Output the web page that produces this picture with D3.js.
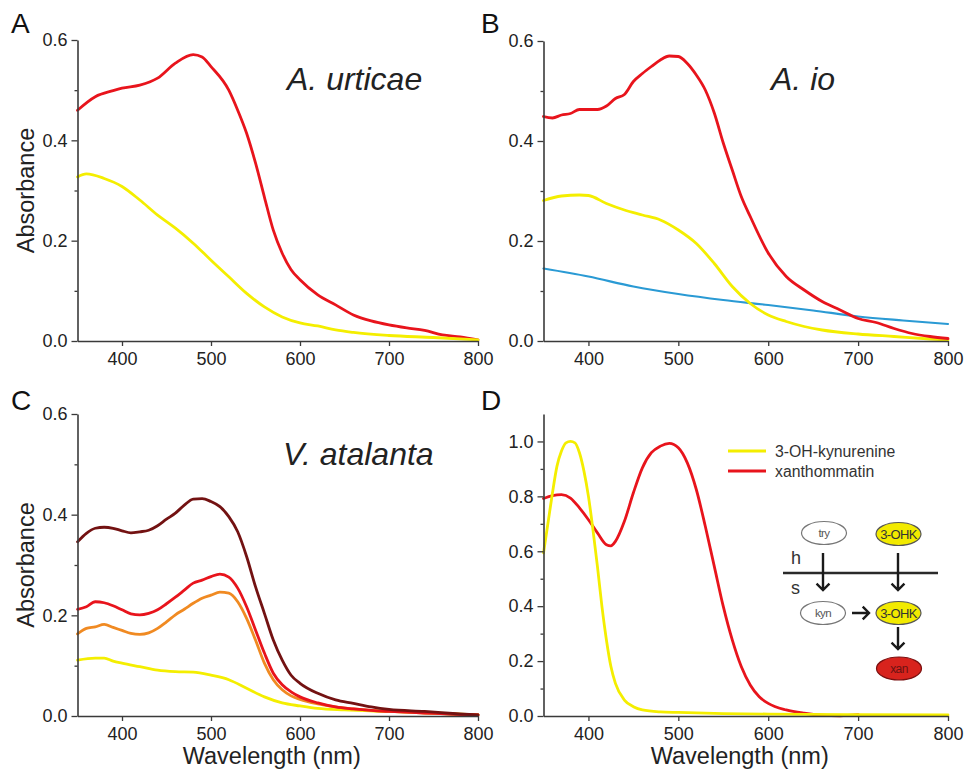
<!DOCTYPE html>
<html>
<head>
<meta charset="utf-8">
<script src="https://cdn.jsdelivr.net/npm/d3@7"></script>
<style>
  html, body { margin: 0; padding: 0; background: #fff; }
  svg { display: block; font-family: "Liberation Sans", Arial, Helvetica, sans-serif; }
</style>
</head>
<body>
<svg id="fig" width="967" height="772"></svg>
<script>
// ---- Absorbance spectra (wavelength in nm, absorbance) ----
// Panel A: A. urticae
const wlUrticaeRed = [350,370,390,400,420,440,460,480,490,500,520,530,540,550,560,570,580,590,600,620,640,660,680,700,720,740,760,780,800];
const urticaeRed   = [0.460,0.487,0.499,0.504,0.510,0.524,0.554,0.571,0.566,0.547,0.500,0.460,0.414,0.355,0.287,0.221,0.175,0.142,0.122,0.092,0.072,0.052,0.040,0.032,0.026,0.021,0.012,0.008,0.002];
const wlUrticaeYellow = [350,360,380,400,420,440,460,480,500,520,540,560,580,600,620,640,660,700,750,800];
const urticaeYellow   = [0.327,0.333,0.324,0.308,0.281,0.251,0.225,0.195,0.161,0.128,0.095,0.068,0.048,0.036,0.030,0.022,0.017,0.011,0.007,0.002];

// Panel B: A. io
const wlIoRed = [350,360,370,380,390,400,410,420,430,440,450,460,470,480,490,500,510,520,530,540,550,560,570,580,600,620,640,660,680,700,720,740,760,780,800];
const ioRed   = [0.449,0.446,0.452,0.455,0.463,0.463,0.463,0.470,0.485,0.493,0.519,0.535,0.549,0.562,0.570,0.569,0.555,0.532,0.502,0.456,0.396,0.342,0.289,0.249,0.176,0.129,0.102,0.079,0.062,0.045,0.037,0.025,0.015,0.009,0.005];
const wlIoYellow = [350,370,390,400,420,440,460,480,500,520,540,560,580,600,620,640,660,700,740,780,800];
const ioYellow   = [0.281,0.290,0.292,0.291,0.275,0.262,0.252,0.242,0.222,0.195,0.155,0.109,0.075,0.052,0.039,0.029,0.022,0.014,0.009,0.004,0.002];
const wlIoBlue = [350,400,450,500,550,600,650,700,750,800];
const ioBlue   = [0.145,0.129,0.109,0.094,0.082,0.072,0.061,0.049,0.041,0.034];

// Panel C: V. atalanta
const wlAtalanta = [350,360,370,380,390,400,410,420,430,440,450,460,470,480,490,500,510,520,530,540,550,560,570,580,590,600,620,640,660,680,700,740,780,800];
const atalantaDark   = [0.346,0.363,0.373,0.375,0.373,0.368,0.364,0.366,0.369,0.378,0.391,0.403,0.419,0.431,0.432,0.426,0.416,0.396,0.366,0.317,0.257,0.204,0.151,0.111,0.081,0.065,0.045,0.032,0.025,0.018,0.013,0.009,0.004,0.002];
const atalantaRed    = [0.212,0.217,0.227,0.225,0.219,0.211,0.203,0.201,0.204,0.211,0.223,0.236,0.250,0.264,0.270,0.277,0.282,0.276,0.254,0.217,0.171,0.125,0.085,0.062,0.048,0.038,0.026,0.018,0.014,0.011,0.009,0.006,0.003,0.002];
const atalantaOrange = [0.163,0.174,0.177,0.182,0.176,0.170,0.164,0.162,0.165,0.174,0.187,0.201,0.212,0.224,0.234,0.240,0.246,0.244,0.227,0.194,0.151,0.105,0.072,0.052,0.040,0.033,0.024,0.018,0.014,0.011,0.009,0.006,0.003,0.002];
const wlAtalantaYellow = [350,370,380,390,400,420,440,460,480,500,520,540,560,580,600,620,650,700,750,800];
const atalantaYellow   = [0.111,0.115,0.115,0.109,0.105,0.098,0.091,0.088,0.087,0.081,0.072,0.055,0.038,0.026,0.020,0.015,0.012,0.009,0.006,0.002];

// Panel D: reference pigments (normalised)
const wlKynurenine = [350,355,360,365,370,375,380,385,390,395,400,405,410,415,420,425,430,440,450,460,480,500,550,600,700,800];
const kynurenine   = [0.594,0.703,0.813,0.910,0.965,0.995,1.000,0.995,0.959,0.892,0.800,0.679,0.545,0.399,0.277,0.180,0.119,0.058,0.034,0.022,0.015,0.013,0.009,0.007,0.005,0.004];
const wlXanthommatin = [350,360,370,380,390,400,410,420,425,430,440,450,460,470,480,490,500,510,520,530,540,550,560,570,580,590,600,620,640,660,680,700];
const xanthommatin   = [0.792,0.803,0.806,0.794,0.758,0.715,0.667,0.624,0.620,0.636,0.709,0.813,0.904,0.959,0.983,0.993,0.977,0.922,0.825,0.691,0.545,0.399,0.277,0.180,0.113,0.070,0.046,0.022,0.010,0.003,0.001,0.005];

// Axis ticks
const xTicks = [400, 500, 600, 700, 800];
const yTicksSmall = [0, 0.2, 0.4, 0.6];
const yMinorSmall = [0.1, 0.3, 0.5];
const yTicksD = [0, 0.2, 0.4, 0.6, 0.8, 1.0];
const yMinorD = [0.1, 0.3, 0.5, 0.7, 0.9];

// Legend entries for panel D
const legendLabels = ["3-OH-kynurenine", "xanthommatin"];

// ---- colours ----
const C = {
  red: "#e8141c",
  yellow: "#f4ee00",
  blue: "#2a9ad4",
  orange: "#f08a22",
  dark: "#731212",
  axis: "#3a3a3a",
  text: "#222"
};

const svg = d3.select("#fig");

const panels = [
  { id: "A", x0: 77.5, x1: 478, yTop: 40, yBot: 341, yMax: 0.6, ticks: yTicksSmall, minor: yMinorSmall,
    title: "A. urticae", titleX: 287, titleY: 90, yLabel: true, xLabel: false, letterX: 11, letterY: 33,
    series: [
      { wl: wlUrticaeRed, v: urticaeRed, color: C.red },
      { wl: wlUrticaeYellow, v: urticaeYellow, color: C.yellow }
    ] },
  { id: "B", x0: 543.5, x1: 948, yTop: 41, yBot: 341, yMax: 0.6, ticks: yTicksSmall, minor: yMinorSmall,
    title: "A. io", titleX: 771, titleY: 90, yLabel: false, xLabel: false, letterX: 481, letterY: 33,
    series: [
      { wl: wlIoBlue, v: ioBlue, color: C.blue, w: 2.2 },
      { wl: wlIoYellow, v: ioYellow, color: C.yellow },
      { wl: wlIoRed, v: ioRed, color: C.red }
    ] },
  { id: "C", x0: 77.5, x1: 478, yTop: 414, yBot: 716, yMax: 0.6, ticks: yTicksSmall, minor: yMinorSmall,
    title: "V. atalanta", titleX: 283, titleY: 465, yLabel: true, xLabel: true, letterX: 11, letterY: 410,
    series: [
      { wl: wlAtalantaYellow, v: atalantaYellow, color: C.yellow },
      { wl: wlAtalanta, v: atalantaOrange, color: C.orange },
      { wl: wlAtalanta, v: atalantaRed, color: C.red },
      { wl: wlAtalanta, v: atalantaDark, color: C.dark }
    ] },
  { id: "D", x0: 543.5, x1: 948, yTop: 414, yBot: 716, yMax: 1.1, ticks: yTicksD, minor: yMinorD,
    title: null, yLabel: false, xLabel: true, letterX: 481, letterY: 410,
    series: [
      { wl: wlXanthommatin, v: xanthommatin, color: C.red },
      { wl: wlKynurenine, v: kynurenine, color: C.yellow }
    ] }
];

panels.forEach(p => {
  const x = d3.scaleLinear().domain([350, 800]).range([p.x0, p.x1]);
  const y = d3.scaleLinear().domain([0, p.yMax]).range([p.yBot, p.yTop]);
  const g = svg.append("g").attr("class", "panel-" + p.id);

  // curves
  const line = d3.line().x(d => x(d[0])).y(d => y(d[1])).curve(d3.curveMonotoneX);
  p.series.forEach(s => {
    g.append("path")
      .datum(s.wl.map((w, i) => [w, s.v[i]]))
      .attr("d", line)
      .attr("fill", "none")
      .attr("stroke", s.color)
      .attr("stroke-width", s.w || 2.8)
      .attr("stroke-linejoin", "round")
      .attr("stroke-linecap", "round");
  });

  // x axis
  g.append("g")
    .attr("transform", `translate(0,${p.yBot})`)
    .call(d3.axisBottom(x).tickValues(xTicks).tickSize(5).tickSizeOuter(0).tickPadding(6).tickFormat(d3.format("d")));
  // y axis
  g.append("g")
    .attr("transform", `translate(${p.x0},0)`)
    .call(d3.axisLeft(y).tickValues(p.ticks).tickSize(6).tickSizeOuter(0).tickPadding(4).tickFormat(d3.format(".1f")));
  // minor y ticks
  g.append("g")
    .attr("transform", `translate(${p.x0},0)`)
    .call(d3.axisLeft(y).tickValues(p.minor).tickSize(3).tickSizeOuter(0).tickFormat(""))
    .select(".domain").remove();

  g.selectAll(".domain").attr("stroke", C.axis).attr("stroke-width", 1.6);
  g.selectAll(".tick line").attr("stroke", C.axis).attr("stroke-width", 1.3);
  g.selectAll(".tick text").attr("fill", C.text).style("font-size", "18px")
    .style("font-family", '"Liberation Sans", Arial, sans-serif');

  // panel letter
  svg.append("text").attr("x", p.letterX).attr("y", p.letterY)
    .attr("fill", "#111").style("font-size", "28px").text(p.id);

  if (p.title) {
    svg.append("text").attr("x", p.titleX).attr("y", p.titleY)
      .attr("fill", "#222").style("font-size", "32px").style("font-style", "italic")
      .text(p.title);
  }
  if (p.yLabel) {
    svg.append("text")
      .attr("transform", `translate(34,${(p.yTop + p.yBot) / 2}) rotate(-90)`)
      .attr("text-anchor", "middle").attr("fill", "#222").style("font-size", "23.5px")
      .text("Absorbance");
  }
  if (p.xLabel) {
    svg.append("text")
      .attr("x", (p.x0 + p.x1) / 2 - 6).attr("y", 764)
      .attr("text-anchor", "middle").attr("fill", "#222").style("font-size", "23.5px")
      .text("Wavelength (nm)");
  }

  if (p.id === "D") {
    // legend
    const lg = g.append("g").attr("transform", "translate(728,451)");
    [C.yellow, C.red].forEach((col, i) => {
      lg.append("line").attr("x1", 0).attr("x2", 38).attr("y1", i * 20).attr("y2", i * 20)
        .attr("stroke", col).attr("stroke-width", 3);
      lg.append("text").attr("x", 47).attr("y", i * 20 + 5.5)
        .attr("fill", "#333").style("font-size", "15.8px").text(legendLabels[i]);
    });

    // pathway sketch: hemolymph (h) / scale (s) compartments
    const dg = g.append("g").attr("transform", "translate(783,520)");
    dg.append("line").attr("x1", 0).attr("x2", 155).attr("y1", 53).attr("y2", 53)
      .attr("stroke", "#2a2a2a").attr("stroke-width", 2.5);
    dg.append("text").attr("x", 8).attr("y", 44).attr("fill", "#333").style("font-size", "18px").text("h");
    dg.append("text").attr("x", 8).attr("y", 74).attr("fill", "#333").style("font-size", "18px").text("s");

    const nodes = [
      { cx: 41, cy: 13, label: "try", fill: "#fff", stroke: "#777", tc: "#555", fs: 11.5 },
      { cx: 115.5, cy: 14, label: "3-OHK", fill: "#f2ea00", stroke: "#555", tc: "#333", fs: 13 },
      { cx: 40, cy: 93, label: "kyn", fill: "#fff", stroke: "#777", tc: "#555", fs: 11.5 },
      { cx: 115.5, cy: 93, label: "3-OHK", fill: "#f2ea00", stroke: "#555", tc: "#333", fs: 13 },
      { cx: 116, cy: 148.5, label: "xan", fill: "#d8231d", stroke: "#7a1010", tc: "#6a1212", fs: 12 }
    ];
    nodes.forEach(n => {
      dg.append("ellipse").attr("cx", n.cx).attr("cy", n.cy).attr("rx", 22.5).attr("ry", 11.5)
        .attr("fill", n.fill).attr("stroke", n.stroke).attr("stroke-width", 1.2);
      dg.append("text").attr("x", n.cx).attr("y", n.cy + n.fs * 0.36)
        .attr("text-anchor", "middle").attr("fill", n.tc).style("font-size", n.fs + "px")
        .style("letter-spacing", "-0.6px").text(n.label);
    });

    const arrow = (x1, y1, x2, y2) => {
      const a = Math.atan2(y2 - y1, x2 - x1), h = 9, s = 0.8;
      dg.append("path")
        .attr("d", `M${x1},${y1}L${x2},${y2}M${x2 - h * Math.cos(a - s)},${y2 - h * Math.sin(a - s)}L${x2},${y2}L${x2 - h * Math.cos(a + s)},${y2 - h * Math.sin(a + s)}`)
        .attr("fill", "none").attr("stroke", "#1a1a1a").attr("stroke-width", 2.4);
    };
    arrow(40, 33, 40, 70);
    arrow(115, 33, 115, 70);
    arrow(69, 93, 86, 93);
    arrow(115, 107, 115, 129);
  }
});
</script>
</body>
</html>
